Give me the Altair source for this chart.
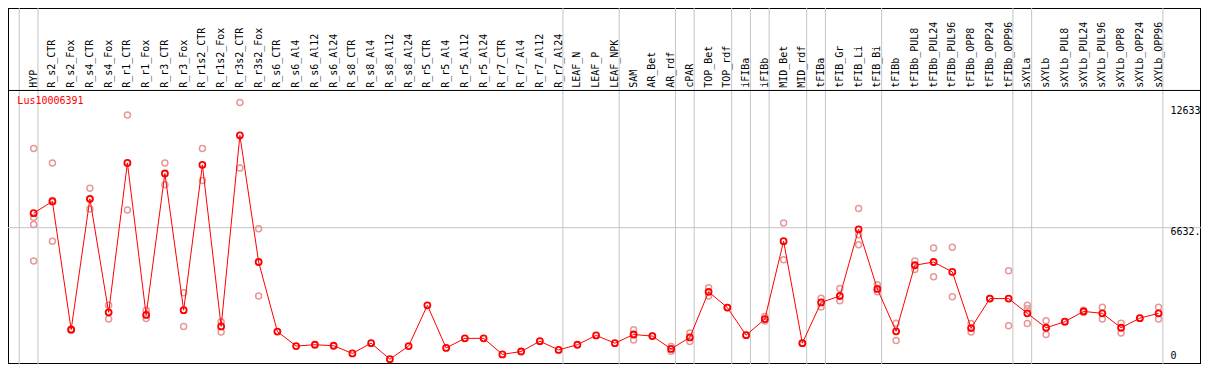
import altair as alt
import pandas as pd

# ---------------- data ----------------
categories = [
    "HYP", "R_s2_CTR", "R_s2_Fox", "R_s4_CTR", "R_s4_Fox", "R_r1_CTR", "R_r1_Fox",
    "R_r3_CTR", "R_r3_Fox", "R_r1s2_CTR", "R_r1s2_Fox", "R_r3s2_CTR", "R_r3s2_Fox",
    "R_s6_CTR", "R_s6_Al4", "R_s6_Al12", "R_s6_Al24", "R_s8_CTR", "R_s8_Al4",
    "R_s8_Al12", "R_s8_Al24", "R_r5_CTR", "R_r5_Al4", "R_r5_Al12", "R_r5_Al24",
    "R_r7_CTR", "R_r7_Al4", "R_r7_Al12", "R_r7_Al24", "LEAF_N", "LEAF_P", "LEAF_NPK",
    "SAM", "AR_Bet", "AR_rdf", "cPAR", "TOP_Bet", "TOP_rdf", "iFIBa", "iFIBb",
    "MID_Bet", "MID_rdf", "tFIBa", "tFIB_Gr", "tFIB_Li", "tFIB_Bi", "tFIBb",
    "tFIBb_PUL8", "tFIBb_PUL24", "tFIBb_PUL96", "tFIBb_OPP8", "tFIBb_OPP24",
    "tFIBb_OPP96", "sXYLa", "sXYLb", "sXYLb_PUL8", "sXYLb_PUL24", "sXYLb_PUL96",
    "sXYLb_OPP8", "sXYLb_OPP24", "sXYLb_OPP96",
]

means = [
    7326, 7893, 1739, 8017, 2570, 9740, 2446, 9232, 2677, 9647, 1893, 11063, 4985,
    1646, 954, 1016, 969, 600, 1092, 323, 954, 2908, 862, 1323, 1323,
    554, 692, 1185, 769, 1016, 1462, 1092,
    1508, 1431, 815, 1369, 3554, 2800, 1477, 2247,
    5986, 1092, 3047, 3354, 6555, 3693, 1662,
    4831, 4985, 4508, 1816, 3231, 3231, 2523, 1831, 2123, 2615, 2523,
    1831, 2292, 2523,
]

replicates = [
    [10432, 7124, 6786, 5031], [9740, 7953, 5986], [1760, 1720], [8525, 8000, 7524],
    [2908, 2247], [12033, 7478], [2677, 2277], [9740, 8693], [3508, 1893],
    [10432, 8893], [2123, 1631], [12633, 9493], [6585, 3354],
    [], [], [], [], [], [], [], [], [], [], [], [],
    [], [], [], [], [], [], [],
    [1739, 1508, 1246], [1431], [937, 706], [1585, 1169], [3754, 3354], [2800], [1477],
    [2370, 2154], [6862, 5093], [1092], [3246, 2831], [3709, 3123],
    [7555, 6293, 5816], [3893, 3554], [2046, 1216], [5031, 4631], [5662, 4277],
    [5693, 3324], [2031, 1631], [3231], [4570, 1923], [2908, 2739, 2031],
    [2170, 1508], [2123], [2677, 2580], [2816, 2247], [2046, 1585], [2292],
    [2816, 2247],
]

group_ends = ["", "HYP", "R_r7_Al24", "LEAF_NPK", "AR_rdf", "cPAR", "TOP_rdf",
              "iFIBa", "iFIBb", "MID_rdf", "tFIBa", "tFIB_Bi", "tFIBb_OPP96",
              "sXYLa", "sXYLb_OPP96"]

gene_name = "Lus10006391"
scale_labels = ["12633", "6632.", "0"]
grid_value = [6632]

# ---------------- layout ----------------
W, H = 1193, 356
SX = W / 1209.0
SY = H / 370.0

xs = alt.Scale(domain=[-0.3684, 63.263], nice=False, zero=False)
ys = alt.Scale(domain=[92.3, 17172], nice=False, zero=False)

df_mean = pd.DataFrame({"cat": categories,
                        "idx": list(range(1, len(categories) + 1)),
                        "value": means})
rows = []
for i, (c, reps) in enumerate(zip(categories, replicates), start=1):
    for v in reps:
        rows.append({"cat": c, "idx": i, "value": v})
df_rep = pd.DataFrame(rows)

df_sep = pd.DataFrame({"pos": [(categories.index(c) + 1 if c else 0) + 0.23
                               for c in group_ends]})
df_grid = pd.DataFrame({"v": grid_value})
df_lab = pd.DataFrame({"t": scale_labels, "py": [106.7 * SY, 232.7 * SY, 362 * SY]})
df_title = pd.DataFrame({"t": [gene_name]})

FONT = "DejaVu Sans Mono"
GREY = "#c4c4c4"

X = alt.X("idx:Q", scale=xs, axis=None)
Y = alt.Y("value:Q", scale=ys, axis=None)

vlines = alt.Chart(df_sep).mark_rule(color=GREY, strokeWidth=1).encode(
    x=alt.X("pos:Q", scale=xs, axis=None), y=alt.value(0), y2=alt.value(H))

hline = alt.Chart(df_grid).mark_rule(color=GREY, strokeWidth=1).encode(
    y=alt.Y("v:Q", scale=ys, axis=None), x=alt.value(0), x2=alt.value(W))

header_sep = alt.Chart(df_grid).mark_rule(color="black", strokeWidth=1).encode(
    y=alt.value(85.7 * SY), x=alt.value(0), x2=alt.value(W))

headers = alt.Chart(df_mean).mark_text(
    angle=270, align="left", baseline="middle", font=FONT, fontSize=10,
    color="black").encode(x=X, y=alt.value(83 * SY), text="cat:N")

reps = alt.Chart(df_rep).mark_point(
    shape="circle", filled=False, color="#e89898", size=36, strokeWidth=1.5,
    opacity=1).encode(x=X, y=Y)

line = alt.Chart(df_mean).mark_line(color="#ff0000", strokeWidth=1).encode(x=X, y=Y)

pts = alt.Chart(df_mean).mark_point(
    shape="circle", filled=False, color="#ff0000", size=36, strokeWidth=1.8,
    opacity=1).encode(x=X, y=Y)

title = alt.Chart(df_title).mark_text(
    align="left", baseline="middle", font=FONT, fontSize=10, color="#ff0000").encode(
    x=alt.value(9.5 * SX), y=alt.value(97 * SY), text="t:N")

labels = alt.Chart(df_lab).mark_text(
    align="left", baseline="middle", font=FONT, fontSize=10, color="black").encode(
    x=alt.value(1178 * SX), y=alt.Y("py:Q", scale=None), text="t:N")

chart = alt.layer(vlines, hline, header_sep, headers, reps, line, pts, title, labels).properties(
    width=W, height=H, padding=0, autosize="none",
    background="white",
).configure_view(stroke="black", strokeWidth=2)

chart.save("out.html", embed_options={"renderer": "svg", "actions": False})
